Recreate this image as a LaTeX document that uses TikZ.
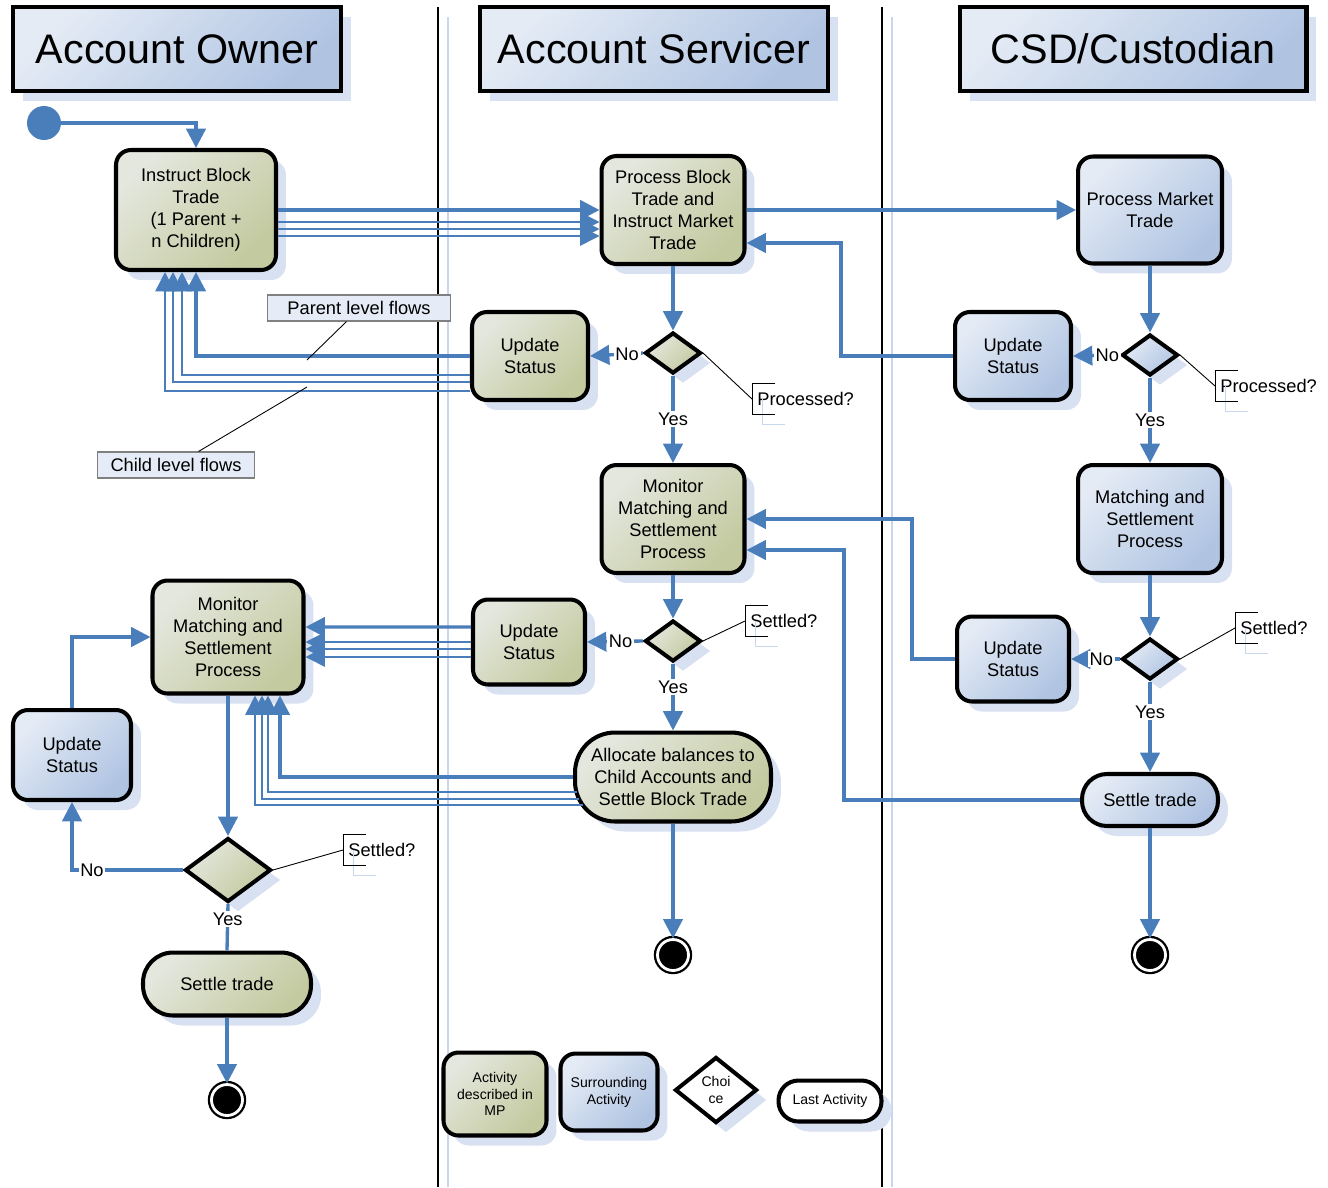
\documentclass[tikz,border=0pt]{standalone}
\usepackage{fontspec}
\setmainfont{Liberation Sans}
\usetikzlibrary{shapes.geometric,arrows.meta,shadows}

\definecolor{flowblue}{HTML}{4A7EBB}
\definecolor{greenlight}{HTML}{E4E7DE}
\definecolor{greendark}{HTML}{C3CA9F}
\definecolor{bluelight}{HTML}{E4EBF5}
\definecolor{bluedark}{HTML}{B0C4E2}
\definecolor{shadowblue}{HTML}{D8E1F1}
\definecolor{tagfill}{HTML}{E6ECF7}
\definecolor{lanefaint}{HTML}{C9D7EE}

\def \boxfont {\fontsize{10.4}{12.5}\selectfont}
\def \legendfont {\fontsize{8}{9.6}\selectfont}
\def \headfont {\fontsize{23.5}{28}\selectfont}
\def \borderwidth {2.3pt}

\tikzset{
  boxshadow/.style={general shadow={fill=shadowblue, shadow xshift=0.2cm, shadow yshift=-0.2cm}},
  box/.style={rectangle, rounded corners=0.3cm, draw=black, line width=\borderwidth, align=center, inner sep=2pt, font=\boxfont, boxshadow},
  mpbox/.style={box, top color=greenlight, bottom color=greendark, shading angle=45},
  otherbox/.style={box, top color=bluelight, bottom color=bluedark, shading angle=45},
  lastbox/.style={box, fill=white, rounded corners=0.4cm},
  choice/.style={diamond, draw=black, line width=\borderwidth, inner sep=0pt, minimum width=1.12cm, minimum height=0.82cm, boxshadow, top color=greenlight, bottom color=greendark, shading angle=45},
  otherchoice/.style={choice, top color=bluelight, bottom color=bluedark, shading angle=45},
  keychoice/.style={diamond, draw=black, line width=\borderwidth, inner sep=0pt, fill=white, align=center, font=\legendfont, boxshadow},
  lanehead/.style={rectangle, draw=black, line width=\borderwidth, font=\headfont, minimum height=1.68cm, top color=bluelight, bottom color=bluedark, shading angle=45, boxshadow},
  initialstate/.style={circle, fill=flowblue, minimum size=0.68cm, inner sep=0pt},
  finalstate/.style={circle, fill=black, draw=black, line width=1.3pt, double=white, double distance=1.6pt, minimum size=0.62cm, inner sep=0pt},
  flow/.style={draw=flowblue, line width=1.9pt, -{Triangle[length=11pt 0,width=11pt 0]}},
  childflow/.style={flow, line width=0.9pt},
  flowplain/.style={draw=flowblue, line width=1.9pt},
  flowlabel/.style={fill=white, inner sep=1pt, font=\boxfont},
  flowtag/.style={rectangle, draw=gray, fill=tagfill, line width=0.6pt, minimum height=0.52cm, inner sep=2pt, font=\boxfont},
  callnote/.style={anchor=west, minimum height=0.6cm, inner xsep=0.1cm, inner ysep=0pt, font=\boxfont},
  noteline/.style={black, line width=0.5pt}
}

% bracket in front of a note
\def \notebracket #1{%
\draw[lanefaint, line width=0.5pt] ([xshift=0.2cm,yshift=-0.3cm]#1.north west) -- ([xshift=0.2cm,yshift=-0.2cm]#1.south west) -- ([xshift=0.66cm,yshift=-0.2cm]#1.south west);
\draw[noteline] ([xshift=0.46cm]#1.north west) -- (#1.north west) -- (#1.south west) -- ([xshift=0.46cm]#1.south west);}

\begin{document}
\begin{tikzpicture}[x=0.02cm, y=-0.02cm]
\useasboundingbox (0,0) rectangle (1328,1187);

% Draw the swimlane separators
\foreach \x in {438,882}
{
\draw[lanefaint, line width=0.8pt] (\x+10,17) -- (\x+10,1187);
\draw[black, line width=1pt] (\x,7) -- (\x,1187);
}

% Draw the lane headers
\node[lanehead, minimum width=6.56cm] (laneOwner) at (177,49) {Account Owner};
\node[lanehead, minimum width=6.96cm] (laneServicer) at (654,49) {Account Servicer};
\node[lanehead, minimum width=6.94cm] (laneCSD) at (1133,49) {CSD/Custodian};

% Draw the account owner activities
\node[initialstate] (start) at (44,123) {};
\node[mpbox, minimum width=3.2cm, minimum height=2.4cm] (instructBlock) at (196,210) {Instruct Block\\Trade\\(1 Parent +\\n Children)};
\node[mpbox, minimum width=3.02cm, minimum height=2.26cm] (monitorOwner) at (228,637) {Monitor\\Matching and\\Settlement\\Process};
\node[otherbox, minimum width=2.36cm, minimum height=1.8cm] (statusOwner) at (72,755) {Update\\Status};
\node[choice, minimum width=1.72cm, minimum height=1.28cm] (settledOwner) at (228,870) {};
\node[mpbox, rounded corners=0.6cm, minimum width=3.36cm, minimum height=1.26cm] (settleOwner) at (227,984) {Settle trade};
\node[finalstate] (endOwner) at (227,1100) {};

% Draw the account servicer activities
\node[mpbox, minimum width=2.86cm, minimum height=2.16cm] (processBlock) at (673,210) {Process Block\\Trade and\\Instruct Market\\Trade};
\node[mpbox, minimum width=2.32cm, minimum height=1.76cm] (statusServicer) at (530,356) {Update\\Status};
\node[choice] (processedServicer) at (673,353) {};
\node[mpbox, minimum width=2.86cm, minimum height=2.16cm] (monitorServicer) at (673,519) {Monitor\\Matching and\\Settlement\\Process};
\node[choice] (settledServicer) at (673,641) {};
\node[mpbox, minimum width=2.24cm, minimum height=1.7cm] (statusServicerB) at (529,642) {Update\\Status};
\node[mpbox, rounded corners=0.8cm, minimum width=3.92cm, minimum height=1.78cm] (allocate) at (673,777) {Allocate balances to\\Child Accounts and\\Settle Block Trade};
\node[finalstate] (endServicer) at (673,955) {};

% Draw the CSD activities
\node[otherbox, minimum width=2.88cm, minimum height=2.14cm] (processMarket) at (1150,210) {Process Market\\Trade};
\node[otherbox, minimum width=2.32cm, minimum height=1.76cm] (statusCSD) at (1013,356) {Update\\Status};
\node[otherchoice] (processedCSD) at (1150,355) {};
\node[otherbox, minimum width=2.88cm, minimum height=2.16cm] (matchCSD) at (1150,519) {Matching and\\Settlement\\Process};
\node[otherchoice] (settledCSD) at (1150,659) {};
\node[otherbox, minimum width=2.24cm, minimum height=1.7cm] (statusCSDB) at (1013,659) {Update\\Status};
\node[otherbox, rounded corners=0.5cm, minimum width=2.72cm, minimum height=1.04cm] (settleCSD) at (1150,800) {Settle trade};
\node[finalstate] (endCSD) at (1150,955) {};

% Draw the legend
\node[mpbox, font=\legendfont, minimum width=2.06cm, minimum height=1.66cm] (keyMP) at (495,1094) {Activity\\described in\\MP};
\node[otherbox, font=\legendfont, minimum width=1.94cm, minimum height=1.54cm] (keyOther) at (609,1092) {Surrounding\\Activity};
\node[keychoice, minimum width=1.64cm, minimum height=1.32cm] (keyChoice) at (716,1090) {Choi\\ce};
\node[lastbox, font=\legendfont, minimum width=2.06cm, minimum height=0.82cm] (keyLast) at (830,1101) {Last Activity};

% Draw the flow tags and notes
\node[flowtag, minimum width=3.66cm] (parentTag) at (359,308) {Parent level flows};
\node[flowtag, minimum width=3.14cm] (childTag) at (176,465) {Child level flows};
\coordinate (parentPoint) at (307,360);
\coordinate (childPoint) at (307,387);
\node[callnote] (noteProcessedServicer) at (752,399) {Processed?};
\node[callnote] (noteSettledServicer) at (745,621) {Settled?};
\node[callnote] (noteProcessedCSD) at (1215,386) {Processed?};
\node[callnote] (noteSettledCSD) at (1235,628) {Settled?};
\node[callnote] (noteSettledOwner) at (343,850) {Settled?};

% Draw the block trade instruction
\draw[flow] (start.east) -| (instructBlock.north);
\draw[flow] (instructBlock.east) -- (processBlock.west);
\foreach \dy in {0.24,0.38,0.52}
\draw[childflow] ([yshift=-\dy cm]instructBlock.east) -- ([yshift=-\dy cm]processBlock.west);
\draw[flow] (processBlock.east) -- (processMarket.west);

% Draw the servicer checks
\draw[flow] (processBlock.south) -- (processedServicer.north);
\draw[flow] (processedServicer.west) -- node[flowlabel, pos=0.3] {No} (statusServicer.east);
\draw[flow] (processedServicer.south) -- node[flowlabel] {Yes} (monitorServicer.north);
\draw[flow] (statusServicer.west) -| (instructBlock.south);
\foreach \dy/\dx in {0.38/0.28, 0.52/0.46, 0.70/0.62}
\draw[childflow] ([yshift=-\dy cm]statusServicer.west) -| ([xshift=-\dx cm]instructBlock.south);
\draw[flow] (monitorServicer.south) -- (settledServicer.north);
\draw[flow] (settledServicer.west) -- node[flowlabel, pos=0.4] {No} (statusServicerB.east);
\draw[flow] (settledServicer.south) -- node[flowlabel, pos=0.35] {Yes} (allocate.north);
\draw[flow] (allocate.south) -- (endServicer.north);

% Draw the status updates back to the owner
\draw[flow] ([yshift=0.30cm]statusServicerB.west) -- ([yshift=0.20cm]monitorOwner.east);
\foreach \ys/\ye in {0/-0.10, -0.14/-0.24, -0.30/-0.40}
\draw[childflow] ([yshift=\ys cm]statusServicerB.west) -- ([yshift=\ye cm]monitorOwner.east);
\draw[flow] (allocate.west) -| ([xshift=1.04cm]monitorOwner.south);
\foreach \sx/\sy/\dx in {0.07/0.30/0.80, 0.12/0.44/0.68, 0.19/0.56/0.54}
\draw[childflow] ([xshift=\sx cm, yshift=-\sy cm]allocate.west) -| ([xshift=\dx cm]monitorOwner.south);

% Draw the CSD checks
\draw[flow] (processMarket.south) -- (processedCSD.north);
\draw[flow] (processedCSD.west) -- node[flowlabel, pos=0.27] {No} (statusCSD.east);
\draw[flow] (processedCSD.south) -- node[flowlabel] {Yes} (matchCSD.north);
\draw[flow] (statusCSD.west) -- ++(-112,0) |- ([yshift=-0.66cm]processBlock.east);
\draw[flow] (matchCSD.south) -- (settledCSD.north);
\draw[flow] (settledCSD.west) -- node[flowlabel, pos=0.38] {No} (statusCSDB.east);
\draw[flow] (settledCSD.south) -- node[flowlabel, pos=0.34] {Yes} (settleCSD.north);
\draw[flow] (statusCSDB.west) -- ++(-43,0) |- (monitorServicer.east);
\draw[flow] (settleCSD.west) -- ++(-236,0) |- ([yshift=-0.62cm]monitorServicer.east);
\draw[flow] (settleCSD.south) -- (endCSD.north);

% Draw the owner settlement loop
\draw[flow] (monitorOwner.south) -- (settledOwner.north);
\draw[flow] (settledOwner.west) -| node[flowlabel, pos=0.41] {No} (statusOwner.south);
\draw[flow] (statusOwner.north) |- (monitorOwner.west);
\draw[flowplain] (settledOwner.south) -- node[flowlabel, pos=0.32] {Yes} (settleOwner.north);
\draw[flow] (settleOwner.south) -- (endOwner.north);

% Draw the tag and note pointers
\draw[noteline] ([xshift=-0.25cm]parentTag.south) -- (parentPoint);
\draw[noteline] ([xshift=0.45cm]childTag.north) -- (childPoint);
\draw[noteline] (processedServicer.east) -- (noteProcessedServicer.west);
\draw[noteline] (settledServicer.east) -- (noteSettledServicer.west);
\draw[noteline] (processedCSD.east) -- (noteProcessedCSD.west);
\draw[noteline] (settledCSD.east) -- (noteSettledCSD.west);
\draw[noteline] (settledOwner.east) -- (noteSettledOwner.west);
\notebracket{noteProcessedServicer}
\notebracket{noteSettledServicer}
\notebracket{noteProcessedCSD}
\notebracket{noteSettledCSD}
\notebracket{noteSettledOwner}
\end{tikzpicture}
\end{document}
